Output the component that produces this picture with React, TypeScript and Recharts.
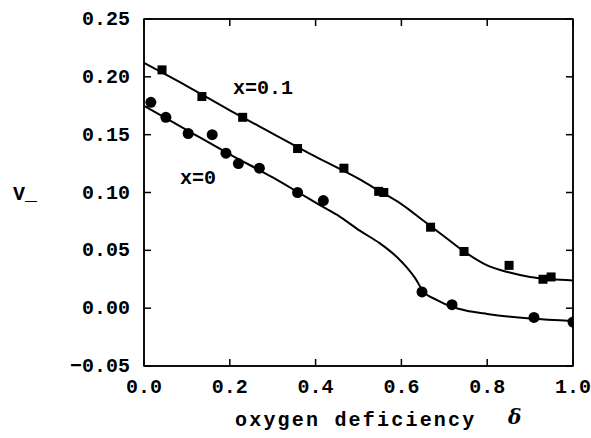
import React from 'react';
import {
  ComposedChart,
  Line,
  Scatter,
  XAxis,
  YAxis,
  ReferenceArea,
} from 'recharts';

// measured points, x = 0.1 sample (squares)
const squareX = [0.042, 0.135, 0.23, 0.358, 0.466, 0.547, 0.559, 0.668, 0.746, 0.851, 0.93, 0.949];
const squareY = [0.206, 0.183, 0.165, 0.138, 0.121, 0.101, 0.1, 0.07, 0.049, 0.037, 0.025, 0.027];

// measured points, x = 0 sample (circles)
const circleX = [0.016, 0.051, 0.103, 0.159, 0.191, 0.22, 0.269, 0.358, 0.418, 0.648, 0.718, 0.909, 1.0];
const circleY = [0.178, 0.165, 0.151, 0.15, 0.134, 0.125, 0.121, 0.1, 0.093, 0.014, 0.003, -0.008, -0.012];

// fitted curves
const fitSquareX = [0, 0.1, 0.2, 0.3, 0.4, 0.5, 0.55, 0.6, 0.65, 0.7, 0.75, 0.8, 0.85, 0.9, 0.95, 1.0];
const fitSquareY = [0.212, 0.192, 0.171, 0.151, 0.131, 0.112, 0.101, 0.09, 0.076, 0.062, 0.048, 0.037, 0.031, 0.027, 0.025, 0.024];

const fitCircleX = [0, 0.1, 0.2, 0.3, 0.36, 0.41, 0.457, 0.503, 0.55, 0.59, 0.613, 0.632, 0.65, 0.683, 0.72, 0.75, 0.8, 0.9, 1.0];
const fitCircleY = [0.175, 0.154, 0.133, 0.113, 0.1, 0.089, 0.079, 0.067, 0.056, 0.044, 0.035, 0.026, 0.015, 0.007, 0.001, -0.002, -0.005, -0.009, -0.011];

const xTicks = [0, 0.2, 0.4, 0.6, 0.8, 1.0];
const yTicks = [-0.05, 0, 0.05, 0.1, 0.15, 0.2, 0.25];

const zip = (xs: number[], ys: number[]) => xs.map((x, i) => ({ x, y: ys[i] }));

const FONT = '"Liberation Mono", "DejaVu Sans Mono", monospace';
const TICK = 7;

const LeftTick = (props: any) => {
  const { x, y, payload } = props;
  return (
    <g>
      <line x1={x} y1={y} x2={x + TICK} y2={y} stroke="#000" strokeWidth={1.5} />
      <text x={x - 14} y={y + 6} textAnchor="end" fontFamily={FONT} fontWeight="bold" fontSize={20} fill="#000">
        {payload.value < 0 ? '\u2212' + Math.abs(payload.value).toFixed(2) : payload.value.toFixed(2)}
      </text>
    </g>
  );
};

const RightTick = (props: any) => {
  const { x, y } = props;
  return <line x1={x} y1={y} x2={x - TICK} y2={y} stroke="#000" strokeWidth={1.5} />;
};

const BottomTick = (props: any) => {
  const { x, y, payload } = props;
  return (
    <g>
      <line x1={x} y1={y} x2={x} y2={y - TICK} stroke="#000" strokeWidth={1.5} />
      <text x={x} y={y + 27} textAnchor="middle" fontFamily={FONT} fontWeight="bold" fontSize={20} fill="#000">
        {payload.value.toFixed(1)}
      </text>
    </g>
  );
};

const TopTick = (props: any) => {
  const { x, y } = props;
  return <line x1={x} y1={y} x2={x} y2={y + TICK} stroke="#000" strokeWidth={1.5} />;
};

const SquareDot = (props: any) => {
  const { cx, cy } = props;
  return <rect x={cx - 4.5} y={cy - 4.5} width={9} height={9} fill="#000" />;
};

const CircleDot = (props: any) => {
  const { cx, cy } = props;
  return <circle cx={cx} cy={cy} r={5.5} fill="#000" />;
};

const NoDot = () => <g />;

export default function App() {
  return (
    <div style={{ position: 'absolute', left: 0, top: 0, width: 591, height: 438, background: '#fff' }}>
      <ComposedChart width={591} height={438} margin={{ top: 18, right: 17, bottom: 0, left: 0 }}>
        <XAxis
          xAxisId="b"
          type="number"
          dataKey="x"
          domain={[0, 1]}
          ticks={xTicks}
          tickSize={0}
          tickMargin={0}
          tickLine={false}
          tick={<BottomTick />}
          axisLine={{ stroke: '#000', strokeWidth: 1.5 }}
          height={72}
          allowDataOverflow
        />
        <XAxis
          xAxisId="t"
          orientation="top"
          type="number"
          dataKey="x"
          domain={[0, 1]}
          ticks={xTicks}
          tickSize={0}
          tickMargin={0}
          tickLine={false}
          tick={<TopTick />}
          axisLine={{ stroke: '#000', strokeWidth: 1.5 }}
          height={1}
          allowDataOverflow
        />
        <YAxis
          yAxisId="l"
          type="number"
          domain={[-0.05, 0.25]}
          ticks={yTicks}
          tickSize={0}
          tickMargin={0}
          tickLine={false}
          tick={<LeftTick />}
          axisLine={{ stroke: '#000', strokeWidth: 1.5 }}
          width={144}
          allowDataOverflow
        />
        <YAxis
          yAxisId="r"
          orientation="right"
          type="number"
          domain={[-0.05, 0.25]}
          ticks={yTicks}
          tickSize={0}
          tickMargin={0}
          tickLine={false}
          tick={<RightTick />}
          axisLine={{ stroke: '#000', strokeWidth: 1.5 }}
          width={1}
          allowDataOverflow
        />
        {/* plot frame */}
        <ReferenceArea
          xAxisId="b"
          yAxisId="l"
          x1={0}
          x2={1}
          y1={-0.05}
          y2={0.25}
          fill="none"
          fillOpacity={0}
          stroke="#000"
          strokeWidth={1.5}
          ifOverflow="visible"
        />
        {/* invisible series so the top and right frame axes get drawn */}
        <Scatter
          xAxisId="t"
          yAxisId="r"
          data={zip(squareX, squareY)}
          dataKey="y"
          shape={<NoDot />}
          isAnimationActive={false}
        />
        <Line
          xAxisId="b"
          yAxisId="l"
          data={zip(fitSquareX, fitSquareY)}
          dataKey="y"
          type="monotone"
          stroke="#000"
          strokeWidth={2}
          dot={false}
          activeDot={false}
          isAnimationActive={false}
        />
        <Line
          xAxisId="b"
          yAxisId="l"
          data={zip(fitCircleX, fitCircleY)}
          dataKey="y"
          type="monotone"
          stroke="#000"
          strokeWidth={2}
          dot={false}
          activeDot={false}
          isAnimationActive={false}
        />
        <Scatter
          xAxisId="b"
          yAxisId="l"
          data={zip(squareX, squareY)}
          dataKey="y"
          shape={<SquareDot />}
          isAnimationActive={false}
        />
        <Scatter
          xAxisId="b"
          yAxisId="l"
          data={zip(circleX, circleY)}
          dataKey="y"
          shape={<CircleDot />}
          isAnimationActive={false}
        />
        <text x={233} y={94} fontFamily={FONT} fontWeight="bold" fontSize={20} fill="#000">x=0.1</text>
        <text x={180} y={184} fontFamily={FONT} fontWeight="bold" fontSize={20} fill="#000">x=0</text>
        <text x={13} y={200} fontFamily={FONT} fontWeight="bold" fontSize={20} fill="#000">V_</text>
        <text x={235} y={426} fontFamily={FONT} fontWeight="bold" fontSize={20} letterSpacing={2.2} fill="#000">
          oxygen deficiency
        </text>
        <text x={508} y={424} fontFamily='"DejaVu Serif", serif' fontStyle="italic" fontWeight="bold" fontSize={20} fill="#000">
          δ
        </text>
      </ComposedChart>
    </div>
  );
}
